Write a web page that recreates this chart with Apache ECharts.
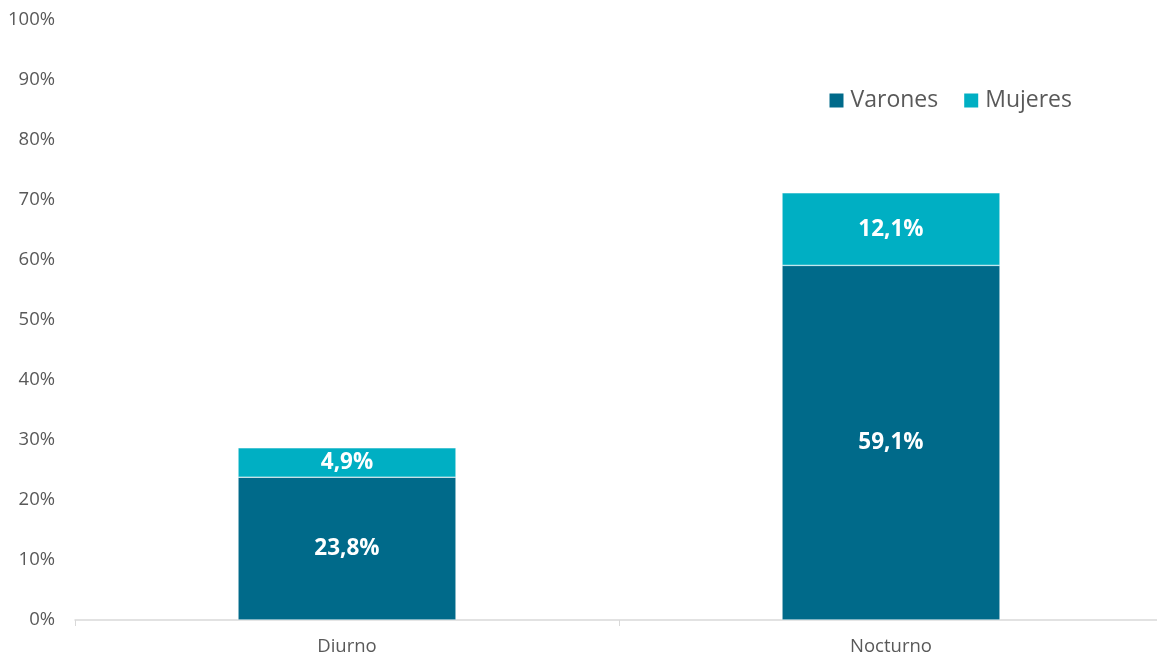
<!DOCTYPE html>
<html>
<head>
<meta charset="utf-8">
<script src="https://cdn.jsdelivr.net/npm/echarts@6/dist/echarts.min.js"></script>
<style>
  html, body { margin: 0; padding: 0; background: #fff; }
  #chart { width: 1157px; height: 655px; }
</style>
</head>
<body>
<div id="chart"></div>
<script>
// datos
const categorias = ['Diurno', 'Nocturno'];
const varones = [23.8, 59.1];
const mujeres = [4.9, 12.1];
const ticksY = [0, 10, 20, 30, 40, 50, 60, 70, 80, 90, 100];

const chart = echarts.init(document.getElementById('chart'));

const etiqueta = {
  show: true,
  position: 'inside',
  color: '#fff',
  fontSize: 22.5,
  fontWeight: 'bold',
  fontFamily: 'Open Sans',
  formatter: p => p.value.toFixed(1).replace('.', ',') + '%'
};

const option = {
  animation: false,
  textStyle: { fontFamily: 'Open Sans' },
  legend: {
    right: 80,
    top: 84,
    itemWidth: 16,
    itemHeight: 16,
    itemGap: 24,
    icon: 'rect',
    textStyle: { fontSize: 23, color: '#595959', fontFamily: 'Open Sans', padding: [0, 0, 0, 1] },
    data: ['Varones', 'Mujeres']
  },
  grid: { left: 75, right: -6, top: 20, bottom: 35, outerBoundsMode: 'none' },
  xAxis: {
    type: 'category',
    data: categorias,
    axisLine: { lineStyle: { color: '#d9d9d9', width: 1.5 } },
    axisTick: { show: true, length: 6, lineStyle: { color: '#d9d9d9' } },
    axisLabel: { fontSize: 18.5, color: '#595959', margin: 17 }
  },
  yAxis: {
    type: 'value',
    min: 0,
    max: 100,
    interval: 10,
    splitLine: { show: false },
    axisLine: { show: false },
    axisTick: { show: false },
    axisLabel: {
      fontSize: 18.5,
      color: '#595959',
      margin: 20,
      formatter: v => ticksY.includes(v) ? v + '%' : ''
    }
  },
  series: [
    {
      name: 'Varones',
      type: 'bar',
      stack: 'total',
      barWidth: 218,
      data: varones,
      itemStyle: { color: '#006A8A', borderColor: '#fff', borderWidth: 0.5 },
      label: etiqueta
    },
    {
      name: 'Mujeres',
      type: 'bar',
      stack: 'total',
      barWidth: 218,
      data: mujeres,
      itemStyle: { color: '#00AFC3', borderColor: '#fff', borderWidth: 0.5 },
      label: etiqueta
    }
  ]
};

chart.setOption(option);
</script>
</body>
</html>
